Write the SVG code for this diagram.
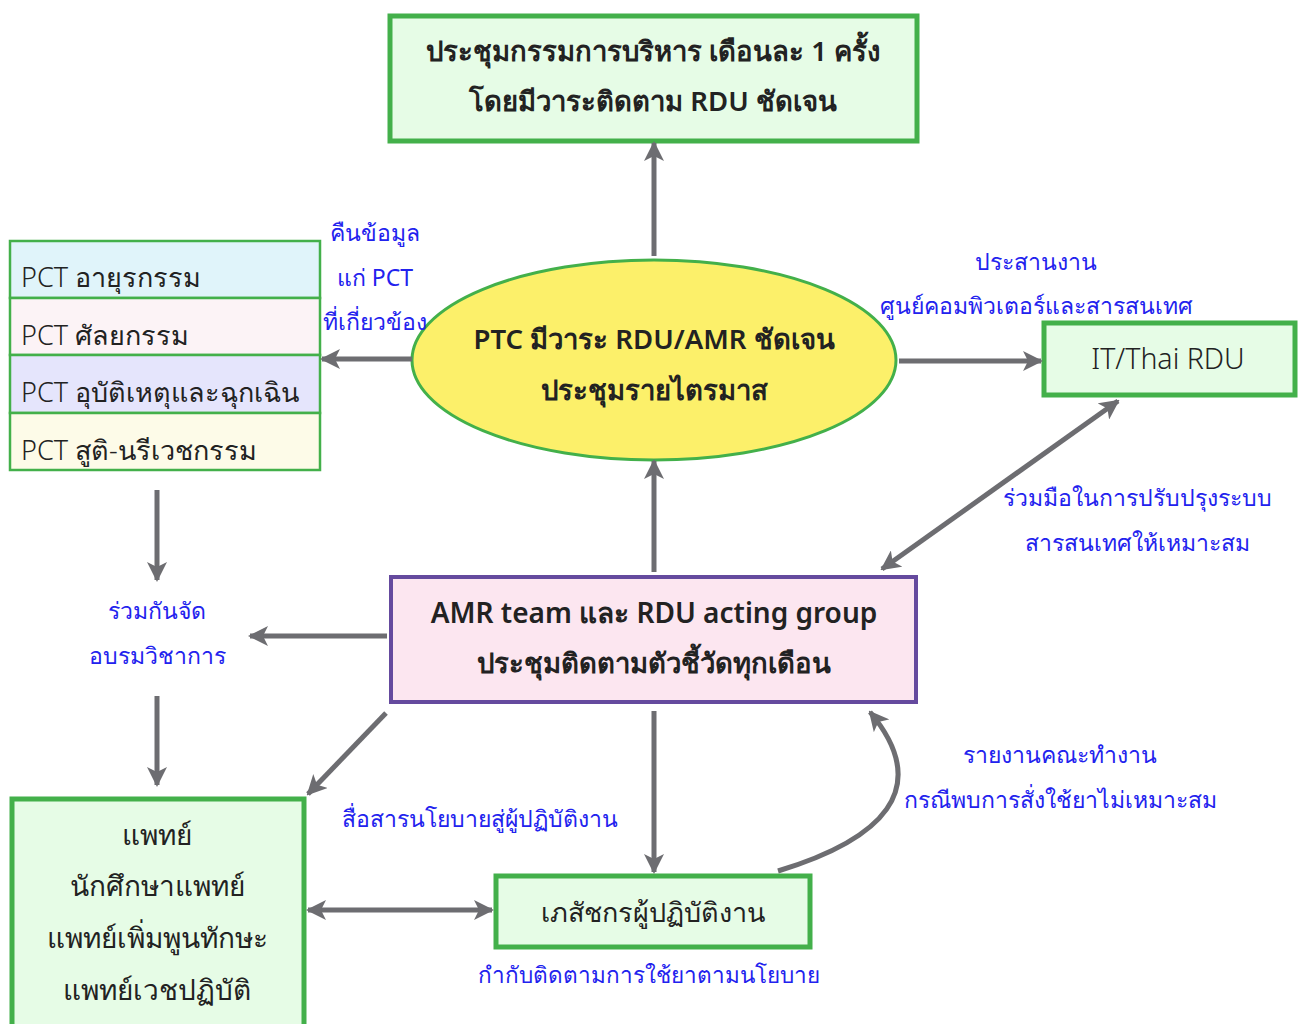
<svg xmlns="http://www.w3.org/2000/svg" width="1298" height="1024" viewBox="0 0 1298 1024">
<style>
.t{font-family:"Noto Sans","Liberation Sans",sans-serif;fill:#222;text-anchor:middle}
.b{font-weight:600;font-size:27.5px}
.r{font-size:27px;font-weight:300}
.l{font-family:"Noto Sans","Liberation Sans",sans-serif;fill:#2222ee;font-size:23px;text-anchor:middle}
.c{fill:none;stroke:#6d6d71;stroke-width:5}
.g{stroke:#43b04a;stroke-width:5}
</style>
<defs>
<marker id="ah" viewBox="0 0 20 20" refX="18" refY="10" markerWidth="20" markerHeight="20" markerUnits="userSpaceOnUse" orient="auto-start-reverse">
<path d="M0,0 L20,10 L0,20 L5,10 Z" fill="#6d6d71"/>
</marker>
</defs>
<rect width="1298" height="1024" fill="#fff"/>
<g id="top">
<rect x="390" y="16" width="527" height="125" fill="#e6fce6" class="g"/>
<text class="t b" x="653" y="61">ประชุมกรรมการบริหาร เดือนละ 1 ครั้ง</text>
<text class="t b" x="653" y="111">โดยมีวาระติดตาม RDU ชัดเจน</text>
</g>
<g id="ptc">
<ellipse cx="654" cy="360" rx="242" ry="100" fill="#fcf06a" stroke="#43b04a" stroke-width="3"/>
<text class="t b" x="654" y="349">PTC มีวาระ RDU/AMR ชัดเจน</text>
<text class="t b" x="654" y="400">ประชุมรายไตรมาส</text>
</g>
<g id="pct">
<rect x="10" y="241" width="310" height="57" fill="#e0f4fa" stroke="#43b04a" stroke-width="2.5"/>
<rect x="10" y="298" width="310" height="57" fill="#fcf3f6" stroke="#43b04a" stroke-width="2.5"/>
<rect x="10" y="355" width="310" height="58" fill="#e5e5fc" stroke="#43b04a" stroke-width="2.5"/>
<rect x="10" y="413" width="310" height="57" fill="#fdfbe8" stroke="#43b04a" stroke-width="2.5"/>
<text class="t r" x="21" y="287" style="text-anchor:start">PCT อายุรกรรม</text>
<text class="t r" x="21" y="345" style="text-anchor:start">PCT ศัลยกรรม</text>
<text class="t r" x="21" y="402" style="text-anchor:start">PCT อุบัติเหตุและฉุกเฉิน</text>
<text class="t r" x="21" y="460" style="text-anchor:start">PCT สูติ-นรีเวชกรรม</text>
</g>
<g id="it">
<rect x="1044" y="323" width="251" height="72" fill="#e6fce6" class="g"/>
<text class="t r" x="1168" y="369" style="font-size:28.5px">IT/Thai RDU</text>
</g>
<g id="amr">
<rect x="391" y="577" width="525" height="125" fill="#fce6f0" stroke="#654a9e" stroke-width="4"/>
<text class="t b" x="654" y="623" style="font-size:28px">AMR team และ RDU acting group</text>
<text class="t b" x="654" y="673">ประชุมติดตามตัวชี้วัดทุกเดือน</text>
</g>
<g id="doctor">
<rect x="12" y="799" width="292" height="230" fill="#e6fce6" class="g"/>
<text class="t r" x="157" y="845" style="font-size:28px">แพทย์</text>
<text class="t r" x="157" y="896" style="font-size:28px">นักศึกษาแพทย์</text>
<text class="t r" x="157" y="948" style="font-size:28px">แพทย์เพิ่มพูนทักษะ</text>
<text class="t r" x="157" y="1000" style="font-size:28px">แพทย์เวชปฏิบัติ</text>
</g>
<g id="pharm">
<rect x="496" y="876" width="314" height="71" fill="#e6fce6" class="g"/>
<text class="t r" x="653" y="922">เภสัชกรผู้ปฏิบัติงาน</text>
</g>
<g id="labels">
<text class="l" x="375" y="241">คืนข้อมูล</text>
<text class="l" x="375" y="286">แก่ PCT</text>
<text class="l" x="375" y="330">ที่เกี่ยวข้อง</text>
<text class="l" x="1036" y="270">ประสานงาน</text>
<text class="l" x="1036" y="314">ศูนย์คอมพิวเตอร์และสารสนเทศ</text>
<text class="l" x="1137" y="506">ร่วมมือในการปรับปรุงระบบ</text>
<text class="l" x="1137" y="551">สารสนเทศให้เหมาะสม</text>
<text class="l" x="157" y="619">ร่วมกันจัด</text>
<text class="l" x="157" y="664">อบรมวิชาการ</text>
<text class="l" x="480" y="827">สื่อสารนโยบายสู่ผู้ปฏิบัติงาน</text>
<text class="l" x="649" y="983" style="font-size:22.5px">กำกับติดตามการใช้ยาตามนโยบาย</text>
<text class="l" x="1060" y="763">รายงานคณะทำงาน</text>
<text class="l" x="1060" y="808">กรณีพบการสั่งใช้ยาไม่เหมาะสม</text>
</g>
<g id="connectors">
<line class="c" x1="654" y1="256" x2="654" y2="143" marker-end="url(#ah)"/>
<line class="c" x1="654" y1="572" x2="654" y2="461" marker-end="url(#ah)"/>
<line class="c" x1="412" y1="359" x2="322" y2="359" marker-end="url(#ah)"/>
<line class="c" x1="899" y1="361" x2="1041" y2="361" marker-end="url(#ah)"/>
<line class="c" x1="882" y1="569" x2="1118" y2="401" marker-start="url(#ah)" marker-end="url(#ah)"/>
<line class="c" x1="387" y1="636" x2="250" y2="636" marker-end="url(#ah)"/>
<line class="c" x1="157" y1="490" x2="157" y2="580" marker-end="url(#ah)"/>
<line class="c" x1="157" y1="696" x2="157" y2="785" marker-end="url(#ah)"/>
<line class="c" x1="386" y1="713" x2="308" y2="794" marker-end="url(#ah)"/>
<line class="c" x1="654" y1="711" x2="654" y2="872" marker-end="url(#ah)"/>
<line class="c" x1="308" y1="910" x2="492" y2="910" marker-start="url(#ah)" marker-end="url(#ah)"/>
<path class="c" d="M778,871 C880,840 935,790 870,712" marker-end="url(#ah)"/>
</g>
</svg>
